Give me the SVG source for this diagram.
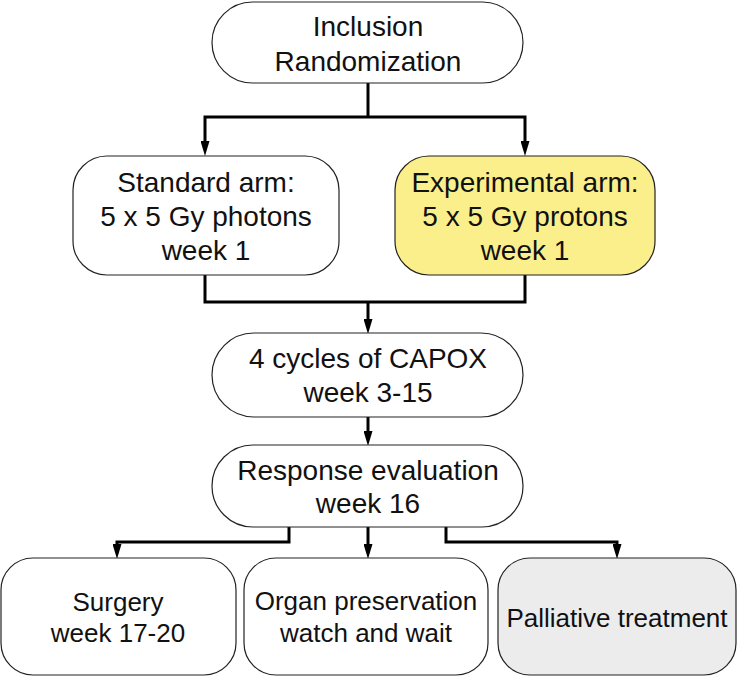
<svg xmlns="http://www.w3.org/2000/svg" width="738" height="677" viewBox="0 0 738 677">
<style>
.box{stroke:#222;stroke-width:1.2;fill:#fff}
.yel{fill:#fbef8b}
.gry{fill:#ececec}
.t{font-family:"Liberation Sans",Arial,Helvetica,sans-serif;font-size:28px;fill:#111;text-anchor:middle}
.s{font-size:26px}
.c{fill:none;stroke:#000;stroke-width:3;stroke-linejoin:miter}
</style>
<defs>
<marker id="ah" markerUnits="userSpaceOnUse" markerWidth="15" markerHeight="9" refX="2" refY="4.5" orient="auto" viewBox="0 0 15 9">
<path d="M0,0 L15,4.5 L0,9 z" fill="#000"/>
</marker>
</defs>
<g id="connectors">
<path class="c" d="M368,83 V117"/>
<path class="c" d="M368,117 H205 V143" marker-end="url(#ah)"/>
<path class="c" d="M368,117 H525 V143" marker-end="url(#ah)"/>
<path class="c" d="M205,275 V302 H525 V275"/>
<path class="c" d="M368,302 V321" marker-end="url(#ah)"/>
<path class="c" d="M368,417 V433" marker-end="url(#ah)"/>
<path class="c" d="M289,527 V542 H117 V546" marker-end="url(#ah)"/>
<path class="c" d="M368,527 V546" marker-end="url(#ah)"/>
<path class="c" d="M446,527 V542 H617 V546" marker-end="url(#ah)"/>
</g>
<g id="inclusion">
<rect class="box" x="212" y="2" width="311" height="81" rx="40.5"/>
<text class="t" x="368" y="36">Inclusion</text>
<text class="t" x="368" y="71">Randomization</text>
</g>
<g id="standard">
<rect class="box" x="73" y="156" width="266" height="119" rx="34"/>
<text class="t" x="206" y="192">Standard arm:</text>
<text class="t" x="206" y="226">5 x 5 Gy photons</text>
<text class="t" x="206" y="260">week 1</text>
</g>
<g id="experimental">
<rect class="box yel" x="395" y="156" width="260" height="119" rx="34"/>
<text class="t" x="525" y="192">Experimental arm:</text>
<text class="t" x="525" y="226">5 x 5 Gy protons</text>
<text class="t" x="525" y="260">week 1</text>
</g>
<g id="capox">
<rect class="box" x="212" y="333" width="311" height="84" rx="42"/>
<text class="t" x="368" y="368">4 cycles of CAPOX</text>
<text class="t" x="368" y="402">week 3-15</text>
</g>
<g id="response">
<rect class="box" x="212" y="445" width="311" height="82" rx="41"/>
<text class="t" x="368" y="480">Response evaluation</text>
<text class="t" x="368" y="513">week 16</text>
</g>
<g id="surgery">
<rect class="box" x="1" y="558" width="235" height="117" rx="32"/>
<text class="t s" x="118" y="611">Surgery</text>
<text class="t s" x="118" y="642">week 17-20</text>
</g>
<g id="organ">
<rect class="box" x="244" y="558" width="244" height="117" rx="32"/>
<text class="t s" x="366" y="610">Organ preservation</text>
<text class="t s" x="366" y="642">watch and wait</text>
</g>
<g id="palliative">
<rect class="box gry" x="498" y="558" width="238" height="117" rx="32"/>
<text class="t s" x="617" y="627">Palliative treatment</text>
</g>
</svg>
